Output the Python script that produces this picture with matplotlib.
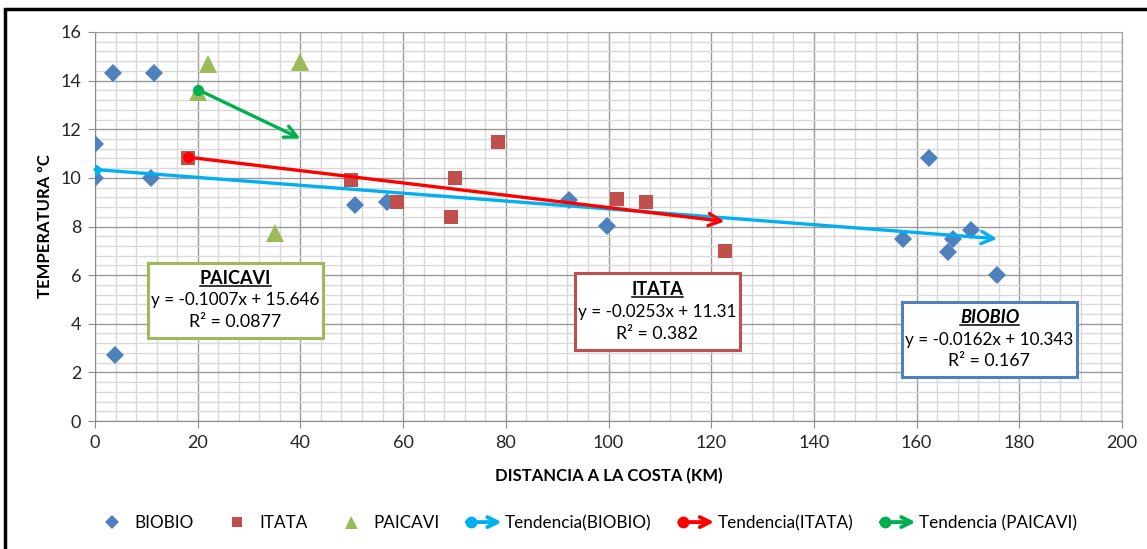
import matplotlib
matplotlib.use('Agg')
import matplotlib.pyplot as plt
import numpy as np
from matplotlib.lines import Line2D
from matplotlib.patches import Rectangle, FancyArrowPatch
from matplotlib.legend_handler import HandlerBase
from matplotlib.ticker import MultipleLocator

plt.rcParams['font.family'] = ['Lato', 'DejaVu Sans']

# distancia (km) / temperatura (C) por estacion
biobio_x = [0, 0, 3.5, 11.5, 11, 3.9, 50.6, 56.8, 92.4, 99.7, 157.4, 162.5, 166.1, 167.1, 170.6, 175.7]
biobio_y = [11.4, 10.0, 14.3, 14.3, 10.0, 2.7, 8.9, 9.02, 9.07, 8.02, 7.49, 10.82, 6.97, 7.49, 7.86, 6.0]
itata_x = [18.1, 49.8, 58.8, 70.2, 69.3, 78.4, 101.6, 107.3, 122.6]
itata_y = [10.8, 9.9, 9.02, 9.99, 8.41, 11.49, 9.14, 9.0, 7.0]
paicavi_x = [20, 22, 40, 35]
paicavi_y = [13.55, 14.7, 14.75, 7.75]

# regresiones lineales (pendiente, intercepto, R2)
names = ['BIOBIO', 'ITATA', 'PAICAVI']
slopes = [-0.0162, -0.0253, -0.1007]
intercepts = [10.343, 11.31, 15.646]
r2 = ['0.167', '0.382', '0.0877']

mk_colors = ['#4F81BD', '#C0504D', '#9BBB59']
tr_colors = ['#00B0F0', '#FF0000', '#00B050']
markers = ['D', 's', '^']
msizes = [9.5, 10.5, 13]
xs = [biobio_x, itata_x, paicavi_x]
ys = [biobio_y, itata_y, paicavi_y]

fig = plt.figure(figsize=(11.47, 5.49), dpi=100)
ax = fig.add_axes([95/1147, 1-421/549, 1027/1147, 389/549])

for x, y, m, c, s in zip(xs, ys, markers, mk_colors, msizes):
    ax.plot(x, y, m, color=c, markersize=s, markeredgewidth=0, zorder=3)

# lineas de tendencia con flecha
for x, c, a, b in zip(xs, tr_colors, slopes, intercepts):
    x0, x1 = min(x), max(x)
    y0, y1 = a*x0 + b, a*x1 + b
    ax.annotate('', xy=(x1, y1), xytext=(x0, y0),
                arrowprops=dict(arrowstyle='->', color=c, lw=2.4, mutation_scale=22,
                                shrinkA=0, shrinkB=0), zorder=4)
    ax.plot([x0], [y0], 'o', color=c, markersize=7, zorder=5)

ax.set_xlim(0, 200)
ax.set_ylim(0, 16)
ax.xaxis.set_major_locator(MultipleLocator(20))
ax.xaxis.set_minor_locator(MultipleLocator(4))
ax.yaxis.set_major_locator(MultipleLocator(2))
ax.yaxis.set_minor_locator(MultipleLocator(0.4))
ax.grid(which='minor', color='#D9D9D9', lw=1.0)
ax.grid(which='major', color='#9A9A9A', lw=1.0)
ax.set_axisbelow(True)
ax.tick_params(which='major', length=5, color='#8C8C8C', labelsize=13, pad=5, labelcolor='#262626')
ax.tick_params(which='minor', length=0)
for sp in ['top', 'right']:
    ax.spines[sp].set_color('#A0A0A0')
for sp in ['left', 'bottom']:
    ax.spines[sp].set_color('#8C8C8C')

ax.set_xlabel('DISTANCIA A LA COSTA (KM)', fontsize=12, fontweight='bold', labelpad=12)
ax.set_ylabel('TEMPERATURA ºC', fontsize=12, fontweight='bold', labelpad=5)

# cuadros con ecuaciones
boxes = [(902, 1077, 302, 377), (575, 740, 273, 350), (148, 323, 263, 338)]
titles = []
for (l, r, t, btm), name, c, a, b, q in zip(boxes, names, mk_colors, slopes, intercepts, r2):
    fx0, fx1 = (l-95)/1027, (r-95)/1027
    fy0, fy1 = (421-btm)/389, (421-t)/389
    ax.add_patch(Rectangle((fx0, fy0), fx1-fx0, fy1-fy0, transform=ax.transAxes,
                           facecolor='white', edgecolor=c, lw=2.2, zorder=6))
    cx = (fx0+fx1)/2
    h = fy1 - fy0
    style = 'italic' if name == 'BIOBIO' else 'normal'
    tt = ax.text(cx, fy1 - 0.21*h, name, transform=ax.transAxes, ha='center', va='center',
                 fontsize=13, fontweight='bold', fontstyle=style, zorder=7)
    titles.append(tt)
    eq = 'y = %.4fx + %s' % (a, b) if name != 'ITATA' else 'y = %.4fx + %.2f' % (a, b)
    ax.text(cx, fy1 - 0.5*h, eq, transform=ax.transAxes, ha='center', va='center',
            fontsize=12.3, zorder=7)
    ax.text(cx, fy1 - 0.79*h, 'R² = ' + q, transform=ax.transAxes, ha='center', va='center',
            fontsize=12.8, zorder=7)


class TrendHandler(HandlerBase):
    def create_artists(self, legend, orig_handle, xdescent, ydescent, width, height, fontsize, trans):
        c = orig_handle.get_color()
        y = height/2 - ydescent
        x0, x1 = -xdescent + 2, width - xdescent
        arr = FancyArrowPatch((x0, y), (x1, y), arrowstyle='->', color=c, lw=2.8,
                              mutation_scale=18, shrinkA=0, shrinkB=0, transform=trans)
        dot = Line2D([x0 + 3], [y], marker='o', color=c, markersize=7.5, transform=trans)
        return [arr, dot]


handles = [Line2D([], [], ls='', marker=m, color=c, markersize=s*0.72, markeredgewidth=0)
           for m, c, s in zip(markers, mk_colors, msizes)]
labels = list(names)
for c, n in zip(tr_colors, names):
    handles.append(Line2D([], [], color=c))
labels += ['Tendencia(BIOBIO)', 'Tendencia(ITATA)', 'Tendencia (PAICAVI)']
hmap = {h: TrendHandler() for h in handles[3:]}
fig.legend(handles, labels, handler_map=hmap, loc='center', bbox_to_anchor=(0.51, 1-523/549),
           ncol=6, frameon=False, fontsize=12.3, handlelength=2.2, handletextpad=0.2,
           columnspacing=1.45)

# marco exterior
fig.add_artist(Rectangle((5/1147, -0.1), 1.2, 1-9/549+0.1, transform=fig.transFigure,
                         facecolor='none', edgecolor='black', lw=2.5))

# subrayado de los titulos de los cuadros
fig.canvas.draw()
r = fig.canvas.get_renderer()
for tt in titles:
    bb = tt.get_window_extent(r)
    yy = bb.y0 + 1
    fig.add_artist(Line2D([bb.x0/1147, bb.x1/1147], [yy/549, yy/549], color='black', lw=1.1,
                          transform=fig.transFigure, zorder=8))

fig.savefig('out.png', dpi=100)
